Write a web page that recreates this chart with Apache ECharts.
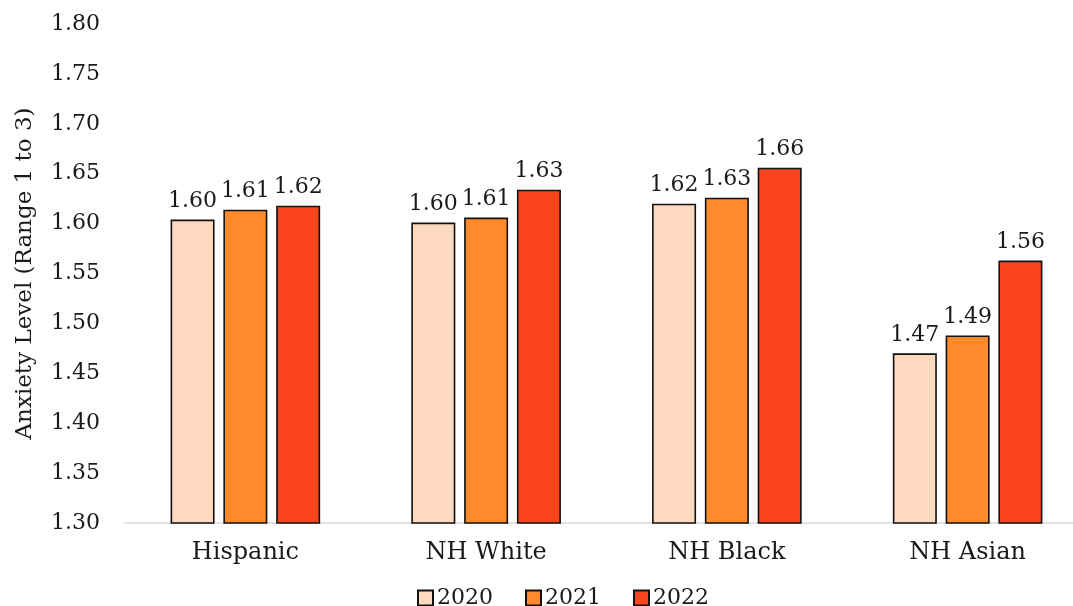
<!DOCTYPE html>
<html>
<head>
<meta charset="utf-8">
<script src="https://cdn.jsdelivr.net/npm/echarts@6/dist/echarts.min.js"></script>
<style>
  html, body { margin: 0; padding: 0; background: #fff; overflow: hidden; }
  #chart { width: 1088px; height: 606px; }
</style>
</head>
<body>
<div id="chart"></div>
<script>
// Mean anxiety level by race/ethnicity and survey year
const categories = ['Hispanic', 'NH White', 'NH Black', 'NH Asian'];
const years = ['2020', '2021', '2022'];
const values2020 = [1.604, 1.601, 1.620, 1.470];
const values2021 = [1.614, 1.606, 1.626, 1.488];
const values2022 = [1.618, 1.634, 1.656, 1.563];
const yTicks = { min: 1.30, max: 1.80, step: 0.05 };

const seriesValues = [values2020, values2021, values2022];
const colors = ['#fdd9bf', '#fd8b2e', '#fb451d'];
const fontFamily = '"DejaVu Serif", Georgia, serif';
const ink = '#1a1a1a';

const chart = echarts.init(document.getElementById('chart'), null, { renderer: 'canvas' });

chart.setOption({
  animation: false,
  backgroundColor: '#ffffff',
  textStyle: { fontFamily: fontFamily, color: ink },
  grid: { left: 125, right: 0, top: 24, bottom: 83, containLabel: false },
  legend: {
    data: years,
    top: 582,
    left: 412,
    itemWidth: 15,
    itemHeight: 15,
    itemGap: 32,
    icon: 'rect',
    textStyle: { fontFamily: fontFamily, fontSize: 22, lineHeight: 16, color: ink, padding: [0, 0, 0, -1] }
  },
  xAxis: {
    type: 'category',
    data: categories,
    axisLine: { show: true, lineStyle: { color: '#d9d9d9', width: 1.5 } },
    axisTick: { show: false },
    axisLabel: { fontFamily: fontFamily, fontSize: 24, color: ink, margin: 18 }
  },
  yAxis: {
    type: 'value',
    min: yTicks.min,
    max: yTicks.max,
    interval: yTicks.step,
    name: 'Anxiety Level (Range 1 to 3)',
    nameLocation: 'middle',
    nameGap: 88,
    nameTextStyle: { fontFamily: fontFamily, fontSize: 23, color: ink },
    axisLine: { show: false },
    axisTick: { show: false },
    splitLine: { show: false },
    axisLabel: {
      fontFamily: fontFamily,
      fontSize: 22,
      color: ink,
      margin: 25,
      formatter: v => v.toFixed(2)
    }
  },
  series: years.map((y, i) => ({
    name: y,
    type: 'bar',
    data: seriesValues[i],
    barWidth: 44,
    barGap: '20%',
    itemStyle: { color: colors[i], borderColor: '#111', borderWidth: 1.6 },
    label: {
      show: true,
      position: 'top',
      distance: 7,
      fontFamily: fontFamily,
      fontSize: 22,
      color: ink,
      formatter: p => p.value.toFixed(2)
    }
  }))
});
</script>
</body>
</html>
